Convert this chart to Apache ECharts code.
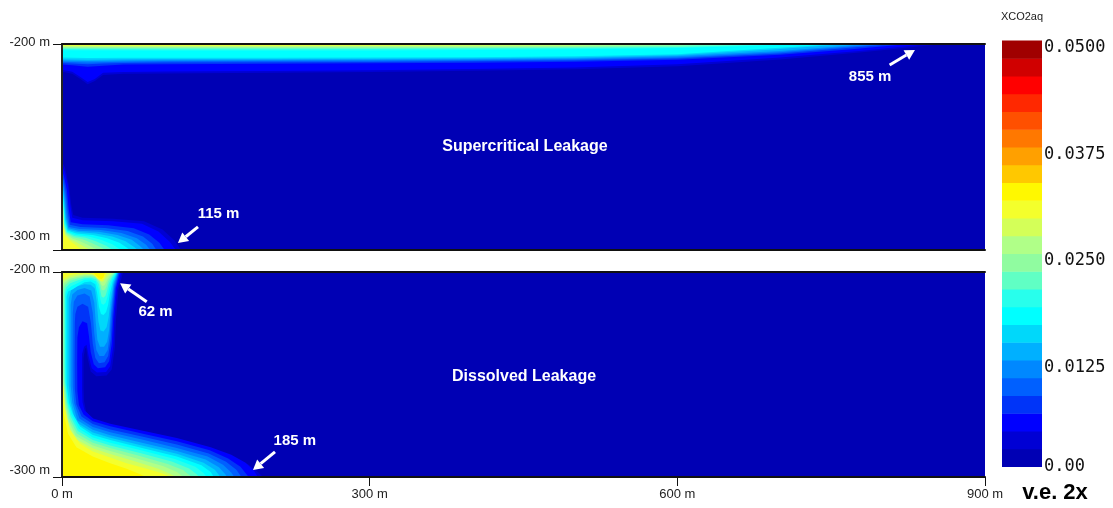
<!DOCTYPE html>
<html>
<head>
<meta charset="utf-8">
<title>XCO2aq - Supercritical / Dissolved Leakage</title>
<script src="https://cdn.jsdelivr.net/npm/echarts@6/dist/echarts.min.js"></script>
<style>
html, body { margin: 0; padding: 0; background: #fff; }
#chart { width: 1113px; height: 508px; }
</style>
</head>
<body>
<div id="chart"></div>
<script>
// colour scale, lowest band first (24 bands from 0 to 0.05)
const bandColors = ['#0000B4', '#0000D4', '#0000FF', '#0034F8', '#0060FF', '#0088FF', '#00B0FF', '#00D8FA',
  '#00FFFF', '#28FFEC', '#60FFC4', '#90FCA0', '#B0FF88', '#D4FF58', '#F4FF2C', '#FFF800',
  '#FFC800', '#FFA000', '#FF7800', '#FF5000', '#FF2800', '#FF0000', '#D00000', '#A00000']
const bandEdges = [0, 0.00208, 0.00417, 0.00625, 0.00833, 0.01042, 0.0125, 0.01458, 0.01667, 0.01875,
  0.02083, 0.02292, 0.025, 0.02708, 0.02917, 0.03125, 0.03333, 0.03542, 0.0375, 0.03958,
  0.04167, 0.04375, 0.04583, 0.04792, 0.05]
const cbTicks = [0, 0.0125, 0.025, 0.0375, 0.05]
const cbTickLabels = ['0.00', '0.0125', '0.0250', '0.0375', '0.0500']
const xRange = [0, 900]
const xTicks = [0, 300, 600, 900]
const zTop = -200
const zBottom = -300

// contours: [band, [[x m, depth below -200 m], ...]]
// top panel, thin plume right under the top boundary
const superTopLayer = [
  [1, [[0, 13.5], [10, 14.5], [18, 17], [25, 19.5], [32, 18], [40, 15], [60, 14.5], [100, 14.3], [200, 14], [300, 13.6], [400, 13], [500, 12.3], [600, 10.8], [700, 7.5], [780, 4], [830, 1.5], [860, 0]]],
  [2, [[0, 12.5], [10, 13.5], [18, 16], [25, 18.5], [32, 17], [40, 14], [60, 13.6], [100, 13.4], [200, 13.1], [300, 12.7], [400, 12.1], [500, 11.4], [600, 9.8], [700, 6.6], [780, 3.3], [820, 1.2], [845, 0]]],
  [3, [[0, 10], [10, 10.3], [25, 11], [40, 10.5], [60, 10], [100, 9.8], [200, 9.6], [300, 9.4], [400, 9.1], [500, 8.6], [600, 7.6], [700, 5.2], [770, 2.5], [825, 0]]],
  [4, [[0, 9.2], [25, 9.8], [40, 9.5], [60, 9.2], [100, 9], [200, 8.8], [300, 8.7], [400, 8.4], [500, 8], [600, 7], [700, 4.6], [765, 2], [812, 0]]],
  [5, [[0, 8.6], [25, 9], [60, 8.6], [100, 8.4], [200, 8.3], [300, 8.1], [400, 7.9], [500, 7.5], [600, 6.5], [700, 4], [760, 1.6], [800, 0]]],
  [6, [[0, 8], [25, 8.3], [60, 8], [100, 7.9], [200, 7.8], [300, 7.6], [400, 7.4], [500, 7], [600, 6], [700, 3.4], [750, 1.4], [785, 0]]],
  [7, [[0, 7.4], [25, 7.6], [60, 7.4], [100, 7.3], [200, 7.3], [300, 7.1], [400, 6.9], [500, 6.5], [600, 5.5], [690, 2.8], [740, 1], [770, 0]]],
  [8, [[0, 6.6], [25, 6.8], [60, 6.7], [100, 6.7], [200, 6.7], [300, 6.6], [400, 6.4], [500, 6], [600, 5], [680, 2.4], [730, 0.8], [755, 0]]],
  [9, [[0, 3], [100, 3.2], [200, 3.2], [300, 3.1], [400, 2.9], [500, 2.6], [600, 2], [670, 1], [720, 0]]],
  [10, [[0, 2.4], [100, 2.5], [200, 2.5], [300, 2.4], [400, 2.2], [500, 1.9], [600, 1.4], [660, 0.6], [700, 0]]],
  [11, [[0, 1.9], [200, 2], [400, 1.8], [500, 1.5], [600, 0.9], [650, 0]]],
  [12, [[0, 1.5], [200, 1.5], [400, 1.3], [500, 1], [580, 0.5], [620, 0]]],
  [13, [[0, 1.1], [200, 1.1], [400, 0.9], [500, 0.6], [580, 0]]],
  [14, [[0, 0.7], [200, 0.7], [400, 0.5], [500, 0.3], [540, 0]]]
]
// top panel, plume in the bottom left corner (wall -> bottom)
const superCorner = [
  [1, [[0, 57], [2.8, 60], [6.5, 68], [9, 78], [11, 83], [20, 84.3], [50, 84.8], [80, 86], [98, 90], [110, 95.5], [116, 100]]],
  [2, [[0, 59], [2.5, 62], [6, 69], [8, 78], [10, 84.3], [20, 85.5], [50, 86], [78, 87.3], [94, 91], [105, 96], [111, 100]]],
  [3, [[0, 61], [2, 64.5], [4.8, 71], [6.5, 80], [8.5, 86.5], [20, 87.5], [45, 88], [70, 89.5], [85, 92.5], [95, 96.5], [100, 100]]],
  [4, [[0, 63], [1.8, 66.5], [4, 73], [5.5, 81], [7.5, 87.8], [18, 88.8], [42, 89.3], [64, 90.8], [79, 93.5], [88, 97], [92, 100]]],
  [5, [[0, 65], [1.5, 68.5], [3.4, 75], [4.6, 82.5], [6.8, 88.8], [17, 89.8], [38, 90.3], [58, 91.8], [73, 94.3], [82, 97.5], [86, 100]]],
  [6, [[0, 66.5], [1.3, 70], [2.9, 77], [3.9, 84], [6.2, 89.5], [16, 90.6], [36, 91.2], [54, 92.7], [68, 95], [76, 98], [80, 100]]],
  [7, [[0, 68], [1.1, 71.5], [2.5, 79], [3.4, 85], [5.8, 90], [15, 91.3], [33, 92], [49, 93.5], [62, 95.8], [70, 98.4], [74, 100]]],
  [8, [[0, 69.5], [1, 73], [2.2, 80], [3, 86], [5.4, 90.5], [14, 92], [30, 92.7], [44, 94.3], [56, 96.5], [63, 98.8], [66, 100]]],
  [9, [[0, 70.5], [0.9, 74], [1.9, 81], [2.6, 86.8], [5, 91], [13, 92.6], [26, 93.4], [38, 95], [49, 97.2], [55, 99.2], [57, 100]]],
  [10, [[0, 71.5], [0.8, 75], [1.7, 82], [2.3, 87.5], [4.6, 91.4], [12, 93.2], [23, 94.1], [33, 95.8], [43, 97.9], [48, 99.5], [50, 100]]],
  [11, [[0, 72.5], [0.7, 76], [1.5, 83], [2.1, 88.2], [4.2, 91.8], [11, 93.8], [20, 94.8], [29, 96.6], [37, 98.5], [42, 99.7], [44, 100]]],
  [12, [[0, 73.5], [0.6, 77], [1.3, 84], [1.9, 88.8], [3.8, 92.2], [10, 94.4], [17, 95.6], [25, 97.4], [31, 99], [35, 99.8], [37, 100]]],
  [13, [[0, 74.5], [0.5, 78], [1.1, 85], [1.7, 89.2], [3.4, 92.6], [9, 95], [15, 96.5], [21, 98.2], [26, 99.5], [28, 100]]],
  [14, [[0, 75.5], [0.4, 79], [0.9, 86], [1.5, 89.6], [3, 93], [8, 95.6], [13, 97.4], [17, 99], [20, 100]]]
]
// bottom panel: cap and finger at the top, strip down the wall, plume along the bottom
const dissolvedLeft = [
  [1, [[59.5, 0], [55, 9], [52.5, 24], [51.5, 37], [48.5, 47.5], [43.5, 50.5], [33.5, 50.8], [28, 48.5], [25, 42], [23.6, 37], [22.3, 37.5],
    [21, 42], [21, 56], [21.5, 63], [23.5, 68], [31, 72.5], [48, 75], [80, 78.5], [112, 82], [145, 86.3], [166, 90], [182, 94], [191, 97.5], [196, 100]]],
  [2, [[58, 0], [53.5, 9], [51, 23.5], [50, 36.5], [47, 46], [43, 48.8], [34, 49], [29, 47], [26, 41], [24, 35.5], [21.5, 36.5],
    [19.5, 40], [19.5, 57], [20, 63.5], [22, 67.5], [30.5, 71.5], [47, 74], [80, 77.5], [112, 81], [145, 85.5], [165, 89.2], [179, 93], [187, 96.8], [191, 100]]],
  [3, [[56.5, 0], [52.5, 8], [50, 22], [48.5, 35], [46, 43.5], [42, 46.5], [35, 47], [31, 45], [28, 39], [26.2, 31], [24.5, 25], [20, 24], [16.5, 27],
    [15, 32], [14.8, 45], [15, 58], [16.5, 65], [21, 69.5], [30, 72.8], [47, 75.3], [80, 79], [112, 82.6], [144, 87], [162, 91], [174, 95], [182, 100]]],
  [4, [[55.5, 0], [51.5, 8], [49, 21], [47.5, 33], [45, 41], [41.5, 44], [36, 44.5], [32.5, 42], [30, 35], [28.2, 25], [25.5, 17], [20, 15.5], [15, 17], [13, 20.5],
    [12.5, 25], [12.3, 45], [12.5, 57], [14, 64.5], [19, 70.5], [30, 74.2], [47, 76.8], [80, 80.5], [112, 84.2], [143, 88.5], [160, 92.6], [170, 96.5], [175, 100]]],
  [5, [[55, 0], [51, 7], [48, 20], [46.5, 31], [44.5, 38], [41, 41], [36.5, 41], [33.5, 38], [31.5, 30], [30, 20], [27, 12], [22, 10.5], [15, 11.5], [11.5, 14.5],
    [10.5, 20], [10.3, 45], [10.5, 56], [12, 64], [17, 71.5], [30, 75.6], [47, 78.2], [80, 82], [112, 85.8], [142, 90], [157, 94], [165, 97.8], [168, 100]]],
  [6, [[54.5, 0], [50.5, 6], [47.5, 18], [46, 28], [44, 34], [41, 36.5], [37, 36.5], [34.5, 33], [33, 25], [31.5, 15], [28.5, 9], [22, 7.8], [15, 8.8], [10, 11],
    [8.5, 16], [8.4, 45], [8.5, 55.5], [10, 63.5], [15, 72.3], [30, 77], [47, 79.6], [80, 83.5], [112, 87.3], [140, 91.5], [153, 95.3], [159, 98.5], [161, 100]]],
  [7, [[54, 0], [50, 5.5], [47, 15], [45.5, 22], [43.5, 27], [40.5, 29], [37.5, 28.5], [35.5, 24], [34, 15], [32, 8], [28, 6.2], [22, 6], [15, 7], [9, 8.8],
    [6.5, 13], [6.4, 45], [6.6, 55], [8.5, 63.5], [13, 73], [30, 78.3], [47, 80.9], [79, 84.8], [112, 88.7], [138, 93], [149, 96.5], [153, 99], [154, 100]]],
  [8, [[53.5, 0], [49.5, 4.5], [46.5, 11], [45, 16], [43, 19.5], [40.5, 21], [38, 20.5], [36, 17], [34.5, 11], [32.5, 6], [28, 4.6], [22, 5], [15, 7], [10, 8.5], [6, 9.5],
    [4.5, 12], [4.4, 45], [4.6, 55], [7, 64], [10.4, 69], [17.6, 75.4], [30, 79.5], [47, 82], [79, 86], [112, 90], [136, 94.3], [145, 97.5], [148, 100]]],
  [9, [[53, 0], [49, 3.5], [46, 8], [44.5, 12], [42.5, 15], [40.5, 16], [38.5, 15.5], [37, 12.5], [35.5, 8], [33, 4.5], [28, 3.6], [22, 3.8], [15, 5.5], [9, 7], [5, 8.5],
    [3.5, 11], [3.4, 45], [3.6, 54], [5.8, 63.5], [9.2, 69.5], [16.5, 76.5], [30, 80.7], [47, 83.3], [79, 87.2], [110, 91.2], [130, 95], [138, 98], [141, 100]]],
  [10, [[52.5, 0], [48.5, 2.8], [45.5, 6], [44, 9], [42.5, 11.5], [40.5, 12.5], [38.5, 12], [37.5, 9.5], [36, 6], [33, 3.5], [28, 2.8], [22, 3], [15, 4.2], [8, 5.5], [4, 7.5],
    [2.8, 10], [2.7, 45], [2.9, 53.5], [4.9, 63.5], [8.3, 70.5], [15.5, 77.6], [30, 82], [47, 84.6], [78, 88.5], [107, 92.4], [124, 95.8], [131, 98.5], [134, 100]]],
  [11, [[52, 0], [48, 2.2], [45, 4.5], [43.5, 7], [42, 8.5], [40, 9], [38.5, 8.5], [37.5, 6.5], [36, 4.5], [33, 2.8], [28, 2.2], [22, 2.3], [15, 3.2], [8, 4.3], [3, 6.5],
    [1.8, 9], [1.6, 45], [2, 53], [4, 64], [7.3, 71.5], [14.5, 78.8], [30, 83.3], [47, 85.9], [76, 89.8], [103, 93.6], [118, 96.6], [124, 99], [127, 100]]],
  [12, [[51, 0], [47, 1.7], [44.5, 3.5], [43, 5], [41.5, 6.5], [39.5, 6.8], [38, 6], [37, 4.5], [35.5, 3], [33, 2], [28, 1.7], [22, 1.7], [15, 2.4], [8, 3.3], [2, 5.5],
    [0.8, 8], [0.6, 45], [1.3, 53], [3.3, 64.5], [6.4, 72.5], [13.5, 80], [30, 84.6], [47, 87.3], [73, 91], [99, 94.8], [112, 97.5], [117, 99.4], [119, 100]]],
  [13, [[50, 0], [46, 1.2], [43.5, 2.5], [42, 3.5], [40.5, 4.6], [38.5, 4.8], [37, 4], [35.5, 2.8], [33, 1.5], [28, 1.2], [22, 1.2], [15, 1.7], [8, 2.5], [1.5, 4.5],
    [0.3, 7], [0.2, 45], [0.8, 54], [2.6, 65], [5.5, 73.5], [12.5, 81.2], [30, 86], [47, 88.8], [70, 92.2], [94, 96], [105, 98.4], [110, 99.6], [112, 100]]],
  [14, [[46, 0], [43, 0.8], [41.5, 2.5], [40, 4], [37.5, 4.3], [35, 3.5], [32, 2], [29, 0.8], [22, 0.6], [15, 0.9], [8, 1.5], [1, 3.5],
    [0, 6], [0, 45], [0.5, 54], [1.3, 56], [2.9, 67], [7.8, 77], [17.6, 83.6], [30, 87.5], [47, 90.5], [63, 93.3], [80, 95.6], [95, 97.8], [103, 99.3], [106, 100]]],
  [15, [[42, 0], [40.5, 2.5], [38.5, 3.5], [36, 3], [33, 1.5], [30, 0], [0, 0],
    [0, 58], [0.6, 62], [2, 70], [6, 79], [14, 85.5], [30, 90], [47, 93.3], [63, 96], [75, 98.4], [82, 100]]]
]

// notes: [text, text x, text z, arrow from x, from z, arrow to x, to z]
const superNotes = [
  ['855 m', 788, -215.8, 807, -210.2, 831.7, -202.9],
  ['115 m', 152.6, -282.5, 132.6, -288.8, 113, -296.6]
]
const dissolvedNotes = [
  ['62 m', 91.2, -219.3, 82.6, -214.5, 56.6, -205.5],
  ['185 m', 227, -282.4, 207.7, -287.7, 186.2, -296.6]
]
const panelTitles = [['Supercritical Leakage', 451.4, -250], ['Dissolved Leakage', 450.5, -251.2]]

const sans = '"Liberation Sans", Arial, sans-serif'
const toZ = ([x, d]) => [x, zTop - d]

// build closed polygons from the contour lines
const background = [0, [[xRange[0], zTop], [xRange[1], zTop], [xRange[1], zBottom], [xRange[0], zBottom]]]
const byBand = (a, b) => a[0] - b[0]
const superPolys = [background]
  .concat(superTopLayer.map(([b, pts]) => [b, pts.map(toZ).concat([[0, zTop]])]))
  .concat(superCorner.map(([b, pts]) => [b, pts.map(toZ).concat([[0, zBottom]])]))
  .sort(byBand)
const dissolvedPolys = [background]
  .concat(dissolvedLeft.map(([b, pts]) => [b, pts.map(toZ).concat([[0, zBottom], [0, zTop]])]))
  .sort(byBand)

const contourSeries = (idx, polys) => ({
  type: 'custom',
  xAxisIndex: idx * 2,
  yAxisIndex: idx,
  silent: true,
  clip: true,
  data: polys.map((p, i) => [p[1][0][0], p[1][0][1], i]),
  renderItem: (params, api) => {
    const [band, pts] = polys[api.value(2)]
    return {
      type: 'polygon',
      shape: { points: pts.map(p => api.coord(p)) },
      style: { fill: bandColors[band] }
    }
  }
})

const noteSeries = (idx, notes) => ({
  type: 'custom',
  xAxisIndex: idx * 2,
  yAxisIndex: idx,
  silent: true,
  z: 4,
  data: notes.map((n, i) => [n[1], n[2], i]),
  renderItem: (params, api) => {
    const n = notes[api.value(2)]
    const t = api.coord([n[1], n[2]])
    const a = api.coord([n[3], n[4]])
    const b = api.coord([n[5], n[6]])
    const ang = Math.atan2(b[1] - a[1], b[0] - a[0])
    const hl = 10, hw = 5.5
    const base = [b[0] - hl * Math.cos(ang), b[1] - hl * Math.sin(ang)]
    const nx = -Math.sin(ang), ny = Math.cos(ang)
    return {
      type: 'group',
      children: [
        { type: 'line', shape: { x1: a[0], y1: a[1], x2: base[0], y2: base[1] }, style: { stroke: '#fff', lineWidth: 3 } },
        { type: 'polygon', shape: { points: [b, [base[0] + nx * hw, base[1] + ny * hw], [base[0] - nx * hw, base[1] - ny * hw]] }, style: { fill: '#fff' } },
        { type: 'text', x: t[0], y: t[1], style: { text: n[0], fill: '#fff', font: 'bold 15px ' + sans, align: 'center', verticalAlign: 'middle' } }
      ]
    }
  }
})

const titleSeries = (idx) => ({
  type: 'custom',
  xAxisIndex: idx * 2,
  yAxisIndex: idx,
  silent: true,
  z: 4,
  data: [[panelTitles[idx][1], panelTitles[idx][2]]],
  renderItem: (params, api) => {
    const p = api.coord([api.value(0), api.value(1)])
    return { type: 'text', x: p[0], y: p[1], style: { text: panelTitles[idx][0], fill: '#fff', font: 'bold 16px ' + sans, align: 'center', verticalAlign: 'middle' } }
  }
})

// axes
const frameLine = { show: true, onZero: false, lineStyle: { color: '#111', width: 2 } }
const xAxisFor = (gridIndex, withLabels) => ([
  {
    gridIndex, type: 'value', min: xRange[0], max: xRange[1], interval: 300, position: 'bottom', z: 5,
    axisLine: frameLine,
    axisTick: { show: withLabels, inside: false, length: 9, lineStyle: { color: '#111', width: 1 } },
    axisLabel: { show: withLabels, margin: 11, fontSize: 13, fontFamily: sans, color: '#222', formatter: v => xTicks.includes(v) ? v + ' m' : '' },
    splitLine: { show: false }
  },
  {
    gridIndex, type: 'value', min: xRange[0], max: xRange[1], position: 'top', z: 5,
    axisLine: frameLine, axisTick: { show: false }, axisLabel: { show: false }, splitLine: { show: false }
  }
])
const yAxisFor = (gridIndex, hiPad, loPad) => ({
  gridIndex, type: 'value', min: zBottom, max: zTop, interval: 100, z: 5,
  axisLine: { show: true, onZero: false, lineStyle: { color: '#222', width: 2 } },
  axisTick: { show: true, length: 9, lineStyle: { color: '#111', width: 1 } },
  axisLabel: {
    margin: 12,
    formatter: v => '{' + (v === zBottom ? 'lo' : 'hi') + '|' + v + ' m}',
    rich: {
      hi: { fontSize: 13, fontFamily: sans, color: '#222', padding: [0, 0, hiPad, 0] },
      lo: { fontSize: 13, fontFamily: sans, color: '#222', padding: [0, 0, loPad, 0] }
    }
  },
  splitLine: { show: false }
})

const option = {
  animation: false,
  backgroundColor: '#fff',
  grid: [
    { left: 62, top: 44, width: 923, height: 206 },
    { left: 62, top: 272, width: 923, height: 205 },
    { left: 1002, top: 41, width: 40, height: 426 }
  ],
  xAxis: [
    ...xAxisFor(0, false),
    ...xAxisFor(1, true),
    { gridIndex: 2, type: 'value', min: 0, max: 1, show: false }
  ],
  yAxis: [
    yAxisFor(0, 4, 28),
    yAxisFor(1, 6, 14),
    {
      gridIndex: 2, type: 'value', min: cbTicks[0], max: cbTicks[cbTicks.length - 1], interval: 0.0125, position: 'right',
      axisLine: { show: false }, axisTick: { show: false }, splitLine: { show: false },
      axisLabel: {
        margin: 2,
        formatter: v => {
          const i = cbTicks.findIndex(t => Math.abs(t - v) < 1e-6)
          return i < 0 ? '' : '{' + (i === 0 ? 'm' : 't') + '|' + cbTickLabels[i] + '}'
        },
        rich: {
          m: { fontSize: 17, fontFamily: '"DejaVu Sans Mono", monospace', color: '#111' },
          t: { fontSize: 17, fontFamily: '"DejaVu Sans Mono", monospace', color: '#111', padding: [14, 0, 0, 0] }
        }
      }
    }
  ],
  graphic: [
    { type: 'text', x: 1022, y: 17, style: { text: 'XCO2aq', fill: '#222', font: '11px "Liberation Sans Narrow", ' + sans, align: 'center', verticalAlign: 'middle' } },
    { type: 'text', x: 1055, y: 493, style: { text: 'v.e. 2x', fill: '#000', font: 'bold 22px ' + sans, align: 'center', verticalAlign: 'middle' } }
  ],
  series: [
    contourSeries(0, superPolys),
    contourSeries(1, dissolvedPolys),
    noteSeries(0, superNotes),
    noteSeries(1, dissolvedNotes),
    titleSeries(0),
    titleSeries(1),
    {
      // colour bar
      type: 'custom',
      xAxisIndex: 4,
      yAxisIndex: 2,
      silent: true,
      data: bandColors.map((c, i) => [0.5, bandEdges[i], i]),
      renderItem: (params, api) => {
        const i = api.value(2)
        const lo = api.coord([0, bandEdges[i]])
        const hi = api.coord([1, bandEdges[i + 1]])
        return {
          type: 'rect',
          shape: { x: lo[0], y: hi[1] - 0.5, width: hi[0] - lo[0], height: lo[1] - hi[1] + 0.5 },
          style: { fill: bandColors[i] }
        }
      }
    }
  ]
}

const chart = echarts.init(document.getElementById('chart'))
chart.setOption(option)
</script>
</body>
</html>
